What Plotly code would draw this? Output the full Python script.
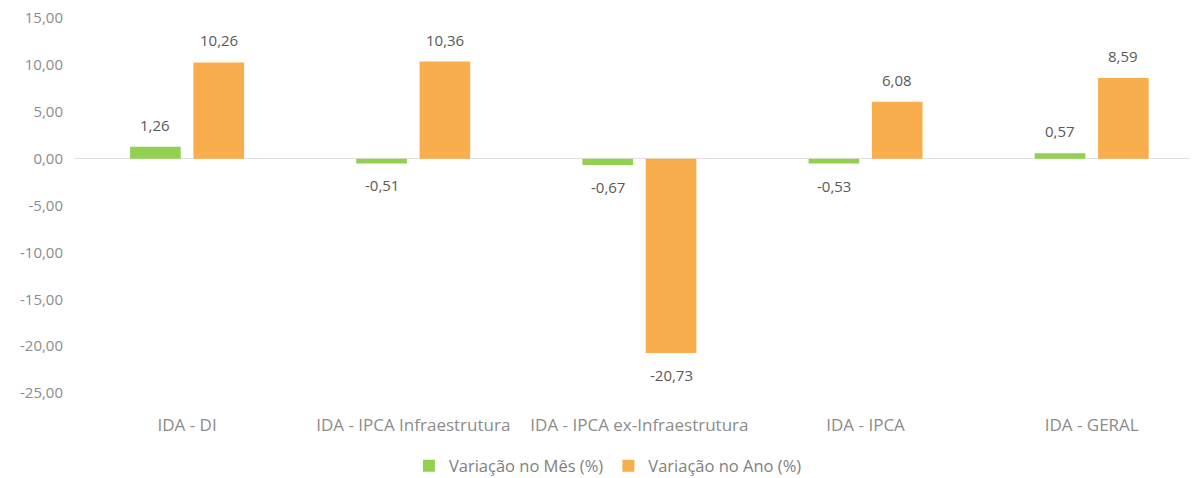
import plotly.graph_objects as go

categories = ["IDA - DI", "IDA - IPCA Infraestrutura", "IDA - IPCA ex-Infraestrutura", "IDA - IPCA", "IDA - GERAL"]
var_mes = [1.26, -0.51, -0.67, -0.53, 0.57]
var_ano = [10.26, 10.36, -20.73, 6.08, 8.59]
y_ticks = [15, 10, 5, 0, -5, -10, -15, -20, -25]


def br(v):
    return f"{v:.2f}".replace(".", ",")


font_fam = "Open Sans, Lato, sans-serif"
# page body has an 8px margin, so the figure is a bit smaller
W, H = 1190, 470
L, R, T, B = 66, 0, 10, 85
x_range = [-0.5, 4.47]
bargap, bargroupgap = 0.44, 0.2
cat_w = (W - L - R) / (x_range[1] - x_range[0])
slot = (1 - bargap) * cat_w / 2
plot_h = H - T - B

fig = go.Figure()
fig.add_trace(go.Bar(x=categories, y=var_mes, name="Variação no Mês (%)",
                     marker_color="#92D050", marker_line_width=0))
fig.add_trace(go.Bar(x=categories, y=var_ano, name="Variação no Ano (%)",
                     marker_color="#F8AE4C", marker_line_width=0))

for vals, sign in ((var_mes, -1), (var_ano, 1)):
    for c, v in zip(categories, vals):
        fig.add_annotation(x=c, y=v, text=br(v), showarrow=False,
                           xshift=sign * slot / 2, yshift=22 if v >= 0 else -22,
                           yanchor="middle",
                           font=dict(size=15, color="#595959", family=font_fam))

fig.update_layout(
    width=W, height=H,
    margin=dict(l=L, r=R, t=T, b=B, autoexpand=False),
    paper_bgcolor="white", plot_bgcolor="white",
    barmode="group", bargap=bargap, bargroupgap=bargroupgap,
    font=dict(family=font_fam, color="#7f7f7f", size=14),
    showlegend=True,
    legend=dict(orientation="h", x=0.475, xanchor="center",
                y=-(458 - (H - B)) / plot_h, yanchor="middle",
                font=dict(size=16.5, color="#7f7f7f"), traceorder="normal",
                itemwidth=30),
    xaxis=dict(range=x_range, showline=False, showgrid=False, ticks="",
               tickfont=dict(size=17, color="#8c8c8c"), zeroline=False,
               automargin=False, ticklabelstandoff=20, ticklabeloverflow="allow"),
    yaxis=dict(range=[-25, 15], tickvals=y_ticks, ticktext=[br(v) for v in y_ticks],
               showgrid=False, zeroline=True, zerolinecolor="#e0e0e0", zerolinewidth=1,
               showline=False, ticks="", automargin=False, ticklabelstandoff=10,
               ticklabeloverflow="allow",
               tickfont=dict(size=15, color="#8c8c8c")),
)

fig.write_html("out.html")
